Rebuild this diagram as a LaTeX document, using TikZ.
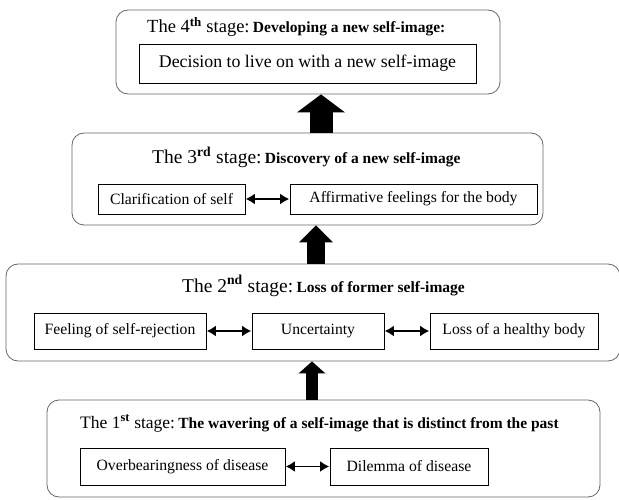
\documentclass[tikz,border=0pt]{standalone}
\usepackage{fontspec}
\setmainfont{Liberation Serif}
\usetikzlibrary{arrows.meta}
\tikzset{stage/.style={draw=black!60, line width=0.8pt, rounded corners=12pt}}
\tikzset{item/.style={draw, line width=0.6pt, inner sep=0pt, font=\fontsize{15.7}{18}\selectfont}}
\tikzset{link/.style={{Latex[length=9pt,width=11pt]}-{Latex[length=9pt,width=11pt]}, line width=1.8pt, shorten <=0.5pt, shorten >=0.5pt}}
\tikzset{title/.style={inner sep=0pt, anchor=base west}}
% #1 size of the label, #2 number, #3 ordinal suffix, #4 name of the stage
\newcommand{\stagehead}[4]{{\fontsize{#1}{20}\selectfont The #2\textsuperscript{\bfseries #3} stage:} {\fontsize{15.5}{18}\selectfont\bfseries #4}}

\begin{document}
\begin{tikzpicture}[x=1pt,y=1pt]
  \useasboundingbox (0,0) rectangle (619,499);
  %% 4th stage
  \draw (308,447) node[stage,minimum width=384pt,minimum height=84pt] (S4) {};
  \draw (147,466) node[title] (T4) {\stagehead{18.5}{4}{th}{Developing a new self-image:}};
  \draw (307.5,435.5) node[item,minimum width=337pt,minimum height=39pt,font=\fontsize{17.8}{20}\selectfont] (D4) {Decision to live on with a new self-image};

  %% 3rd stage
  \draw (307.5,320) node[stage,minimum width=471pt,minimum height=92pt] (S3) {};
  \draw (152,335) node[title] (T3) {\stagehead{19.5}{3}{rd}{Discovery of a new self-image}};
  \draw (171.5,300) node[item,minimum width=147pt,minimum height=30pt] (C3) {Clarification of self};
  \draw (413.5,300) node[item,minimum width=247pt,minimum height=30pt] (A3) {Affirmative feelings for the body};

  %% 2nd stage
  \draw (313,186.5) node[stage,minimum width=614pt,minimum height=97pt] (S2) {};
  \draw (182,207) node[title] (T2) {\stagehead{19.5}{2}{nd}{Loss of former self-image}};
  \draw (120,168) node[item,minimum width=172pt,minimum height=36pt] (F2) {Feeling of self-rejection};
  \draw (318,168) node[item,minimum width=132pt,minimum height=36pt] (U2) {Uncertainty};
  \draw (514,168) node[item,minimum width=168pt,minimum height=36pt] (L2) {Loss of a healthy body};

  %% 1st stage
  \draw (323.5,50.5) node[stage,minimum width=553pt,minimum height=97pt] (S1) {};
  \draw (80,71) node[title] (T1) {\stagehead{17.5}{1}{st}{The wavering of a self-image that is distinct from the past}};
  \draw (182.5,32.5) node[item,minimum width=205pt,minimum height=37pt] (O1) {Overbearingness of disease};
  \draw (409,32.5) node[item,minimum width=158pt,minimum height=37pt] (M1) {Dilemma of disease};

  %% links inside stages
  \draw[link] (C3) -- (A3);
  \draw[link] (F2) -- (U2);
  \draw[link] (U2) -- (L2);
  \draw[link] (O1) -- (M1);

  %% stage to stage
  \draw[line width=23pt,-{Triangle[length=18pt,width=47pt]}] ([xshift=13.5pt]S3.north) -- ([xshift=13pt]S4.south);
  \draw[line width=18pt,-{Triangle[length=17pt,width=33pt]}] ([xshift=3pt]S2.north) -- ([xshift=8.5pt]S3.south);
  \draw[line width=12pt,-{Triangle[length=12pt,width=26pt]}] ([xshift=-11.5pt]S1.north) -- ([xshift=-1pt]S2.south);
\end{tikzpicture}
\end{document}
